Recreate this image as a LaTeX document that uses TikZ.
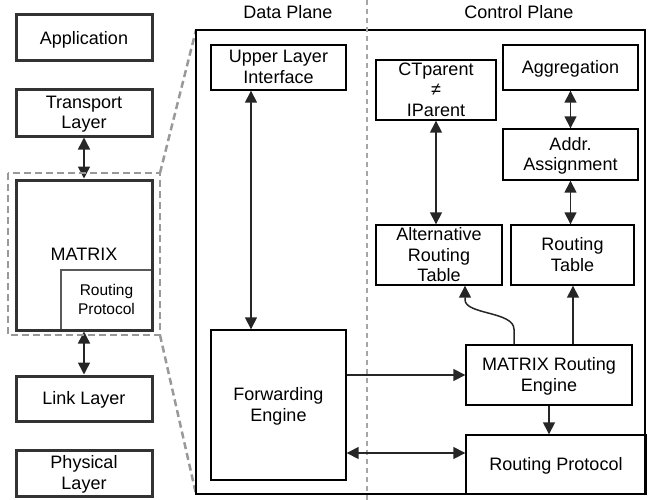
\documentclass[tikz,border=0pt]{standalone}
\usepackage{fontspec}
\setmainfont{Liberation Sans}
\usetikzlibrary{arrows.meta,calc}
\begin{document}
\begin{tikzpicture}[x=1pt,y=-1pt,
  every node/.style={font=\fontsize{18}{20.5}\selectfont, align=center, inner sep=0pt, text depth=1pt},
  lbox/.style={draw=black!80, line width=3pt, minimum width=136pt},
  rbox/.style={draw=black, line width=1.4pt},
  inbox/.style={draw=black!65, line width=1.2pt},
  arr/.style={line width=1.5pt, draw=black!85, -{Triangle[length=12pt,width=12pt]}},
  dbl/.style={line width=1.5pt, draw=black!85, {Triangle[length=12pt,width=12pt]}-{Triangle[length=12pt,width=12pt]}},
  gdash/.style={draw=black!40, line width=2.5pt, dash pattern=on 7pt off 4pt},
  divider/.style={draw=black!35, line width=1.5pt, dash pattern=on 5pt off 4pt}]
\useasboundingbox (0,0) rectangle (650,500);
% left stack
\node[lbox, minimum height=46pt] (app) at (84,38) {Application};
\node[lbox, minimum height=46pt] (tl) at (84,113) {Transport\\Layer};
\node[inbox, minimum width=91pt, minimum height=60pt, font=\fontsize{15.5}{19}\selectfont] (rpin) at (106.5,300) {Routing\\Protocol};
\node[lbox, minimum height=150pt] (mx) at (84,255) {MATRIX};
\node[lbox, minimum height=45pt] (ll) at (84,398.5) {Link Layer};
\node[lbox, minimum height=46pt] (pl) at (84,473) {Physical\\Layer};
\draw[dbl] (tl.south) -- (mx.north);
\draw[dbl] (mx.south) -- (ll.north);
\coordinate (dtl) at (8,173);
\coordinate (dbr) at (160,335);
\draw[gdash] (dtl) rectangle (dbr);
% big frame
\coordinate (ftl) at (196,30);
\coordinate (fbr) at (645,494);
\draw[gdash] (dtl -| dbr) -- (ftl);
\draw[gdash] (dbr) -- (ftl |- fbr);
\draw[line width=1.4pt, draw=black] (ftl) rectangle (fbr);
\coordinate (dv1) at (367,0);
\coordinate (dv2) at (367,500);
\draw[divider] (dv1) -- (dv2);
\node (dp) at (288,12) {Data Plane};
\node (cp) at (519,12) {Control Plane};
% data plane
\node[rbox, minimum width=135pt, minimum height=45pt] (uli) at (278.5,67.5) {Upper Layer\\Interface};
\node[rbox, minimum width=135pt, minimum height=150pt] (fe) at (278.5,405) {Forwarding\\Engine};
% control plane
\node[rbox, minimum width=120pt, minimum height=60pt] (ct) at (436,90) {CTparent\\≠\\IParent};
\node[rbox, minimum width=135pt, minimum height=45pt] (agg) at (570.5,67.5) {Aggregation};
\node[rbox, minimum width=135pt, minimum height=51pt] (addr) at (570.5,154.5) {Addr.\\Assignment};
\node[rbox, minimum width=126pt, minimum height=60pt] (alt) at (439,255) {Alternative\\Routing\\Table};
\node[rbox, minimum width=123pt, minimum height=60pt] (rt) at (572.5,255) {Routing\\Table};
\node[rbox, minimum width=166pt, minimum height=60pt] (mre) at (549,375) {MATRIX Routing\\Engine};
\node[rbox, minimum width=180pt, minimum height=59pt] (rp) at (556,464.5) {Routing Protocol};
% connectors
\draw[dbl] ([xshift=-27.5pt]uli.south) -- ([xshift=-27.5pt]fe.north);
\draw[dbl] (ct.south) -- (ct.south |- alt.north);
\draw[dbl] (agg.south) -- (addr.north);
\draw[dbl] (addr.south) -- (addr.south |- rt.north);
\draw[arr] (fe.east |- mre.west) -- (mre.west);
\coordinate (rpl) at ([yshift=11.5pt]rp.west);
\draw[dbl] (fe.east |- rpl) -- (rpl);
\draw[arr] (mre.south) -- (mre.south |- rp.north);
\coordinate (mrt) at ([xshift=24pt]mre.north);
\draw[arr] (mrt) -- (mrt |- rt.south);
\coordinate (malt) at ([xshift=-35pt]mre.north);
\coordinate (altb) at ([xshift=26pt]alt.south);
\draw[arr] (malt) -- ($(malt)+(0,-15)$) .. controls ($(malt)+(0,-33)$) and ($(altb)+(0,29)$) .. ($(altb)+(0,14)$) -- (altb);
\end{tikzpicture}
\end{document}
